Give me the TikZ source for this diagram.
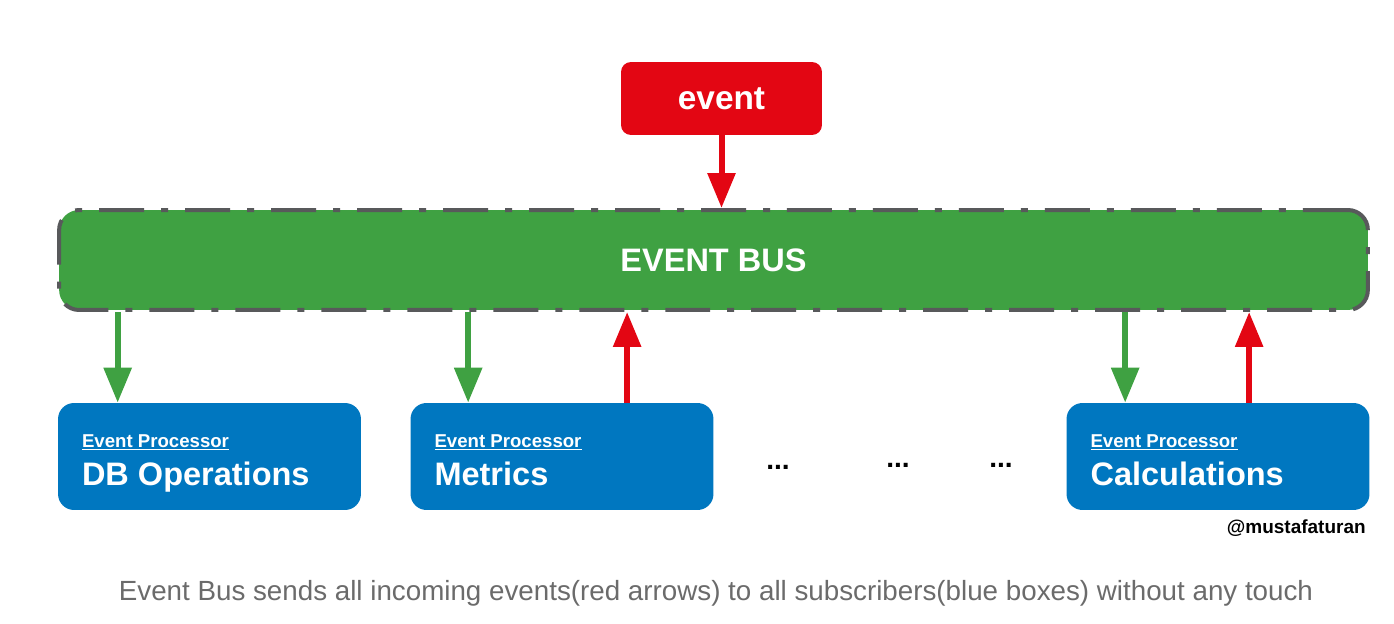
\documentclass[tikz,border=0pt]{standalone}
\usepackage{fontspec}
\setmainfont{Liberation Sans}
\usepackage{xcolor}
\usetikzlibrary{arrows.meta}
\definecolor{busgreen}{HTML}{3FA142}
\definecolor{eventred}{HTML}{E30613}
\definecolor{procblue}{HTML}{0077C0}
\definecolor{bordergray}{HTML}{58595B}
\definecolor{captiongray}{HTML}{6B6B6B}
\tikzset{>=Triangle}
\tikzset{%
    procbox/.style={%
        fill=procblue, text=white, rounded corners=0.32cm,
        minimum width=6.06cm, minimum height=2.14cm,
        text width=5.1cm, inner xsep=0.48cm, align=left,
        font=\fontsize{18.5}{22.1}\selectfont\bfseries
    },
    flowdown/.style={-{Triangle[width=0.54cm,length=0.7cm]}, line width=0.12cm, busgreen},
    flowup/.style={-{Triangle[width=0.54cm,length=0.7cm]}, line width=0.12cm, eventred},
    dotsnode/.style={font=\fontsize{16}{16}\selectfont\bfseries}
}
\newcommand{\procname}[1]{\spaceskip=0pt\xspaceskip=0pt\rule{0pt}{17pt}{\fontsize{10.6}{13}\selectfont\underline{Event Processor}}\\#1\rule[-5.7pt]{0pt}{5.7pt}}

\begin{document}
\begin{tikzpicture}[x=0.02cm,y=-0.02cm]
    \useasboundingbox (0,0) rectangle (1394,624);
    \node[fill=eventred, text=white, rounded corners=0.2cm, minimum width=4.02cm, minimum height=1.46cm,
          font=\fontsize{19}{19}\selectfont\bfseries] (event) at (721.5,98.5) {event};
    \node[fill=busgreen, draw=bordergray, line width=0.08cm,
          dash pattern=on 0.9cm off 0.34cm on 0.14cm off 0.34cm,
          rounded corners=0.4cm, minimum width=26.18cm, minimum height=2cm,
          text=white, font=\fontsize{18.5}{18.5}\selectfont\bfseries] (bus) at (713.5,260) {EVENT BUS};
    \node[procbox] (db) at (209.5,456.5) {\procname{DB Operations}};
    \node[procbox] (metrics) at (562,456.5) {\procname{Metrics}};
    \node[procbox] (calc) at (1218,456.5) {\procname{Calculations}};
    \node[dotsnode] (dotsa) at (778,467) {...};
    \node[dotsnode] (dotsb) at (898,465) {...};
    \node[dotsnode] (dotsc) at (1001,465) {...};
    \node[anchor=east, inner sep=0pt, font=\fontsize{10.8}{10.8}\selectfont\bfseries] (credit) at (1366,528) {@mustafaturan};
    \node[text=captiongray, font=\fontsize{15.8}{15.8}\selectfont] (caption) at (716,593)
        {Event Bus sends all incoming events(red arrows) to all subscribers(blue boxes) without any touch};
    % incoming event
    \draw[flowup] (event.south) -- (event.south |- bus.north);
    % bus to subscribers
    \draw[flowdown] ([xshift=1.2cm]db.north west |- bus.south) -- ([xshift=1.2cm]db.north west);
    \draw[flowdown] ([xshift=1.16cm]metrics.north west |- bus.south) -- ([xshift=1.16cm]metrics.north west);
    \draw[flowdown] ([xshift=1.18cm]calc.north west |- bus.south) -- ([xshift=1.18cm]calc.north west);
    % subscribers publishing back
    \draw[flowup] ([xshift=4.34cm]metrics.north west) -- ([xshift=4.34cm]metrics.north west |- bus.south);
    \draw[flowup] ([xshift=3.66cm]calc.north west) -- ([xshift=3.66cm]calc.north west |- bus.south);
\end{tikzpicture}
\end{document}
